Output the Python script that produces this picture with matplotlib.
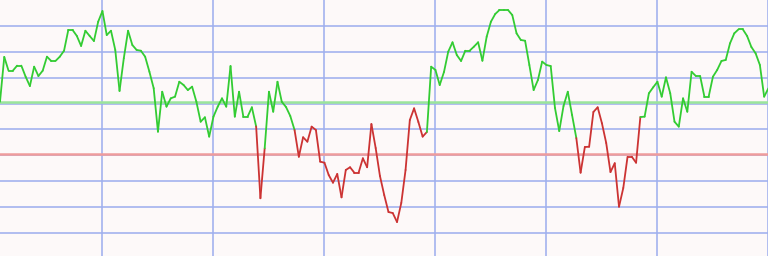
import numpy as np
import matplotlib
matplotlib.use("Agg")
import matplotlib.pyplot as plt
from matplotlib.collections import LineCollection

# Oscillator values (one per period)
values = [
    21.4, 55.9, 45.3, 45.3, 49.2, 49.2, 40.7, 33.5, 48.4, 41.2,
    45.3, 56.1, 52.8, 52.8, 56.1, 60.7, 76.7, 76.7, 72.1, 64.4,
    76.1, 72.1, 68.2, 83.1, 91.3, 72.8, 76.1, 61.3, 29.7, 54.9,
    76.1, 65.1, 61.3, 60.7, 56.1, 44.5, 31.8, -1.7, 29.1, 17.6,
    24.0, 25.3, 36.8, 34.3, 30.4, 33.0, 21.4, 6.0, 9.4, -5.5,
    9.9, 17.6, 24.0, 17.6, 48.9, 9.9, 29.1, 9.9, 9.9, 17.1,
    2.3, -53.0, -14.5, 29.1, 13.7, 36.8, 21.4, 17.3, 10.4, -0.4,
    -21.0, -6.0, -9.4, 2.2, -0.4, -24.8, -25.6, -35.1, -41.0, -34.3,
    -52.3, -31.2, -29.1, -33.3, -33.3, -22.2, -29.1, 4.2, -14.3, -35.8,
    -50.5, -63.6, -64.4, -71.3, -56.6, -31.2, 7.3, 16.3, 5.8, -5.5,
    -1.9, 48.4, 45.9, 34.3, 44.3, 60.0, 67.2, 57.4, 52.8, 60.7,
    60.7, 63.8, 67.2, 53.0, 71.5, 83.1, 89.0, 92.1, 92.1, 92.1,
    88.2, 74.1, 69.0, 68.4, 49.7, 30.4, 38.1, 52.3, 49.7, 48.9,
    16.6, -1.2, 18.1, 29.1, 11.2, -6.6, -33.3, -13.5, -13.3, 13.5,
    17.1, 4.8, -10.4, -32.8, -26.0, -59.5, -45.1, -21.0, -21.0, -25.6,
    9.6, 9.9, 27.9, 32.5, 36.8, 25.3, 40.2, 27.9, 6.0, 2.2,
    24.0, 13.7, 44.5, 41.2, 41.2, 25.3, 25.3, 40.7, 45.9, 52.8,
    53.6, 66.4, 74.1, 77.2, 77.2, 72.1, 63.6, 58.7, 49.7, 25.3,
    31.8,
]

# Segment ranges (start, end) drawn in red (bearish state)
red_spans = [(60, 62), (69, 100), (135, 150)]

upper_level = 21
lower_level = -19

x = np.arange(len(values))
y = np.array(values)

fig = plt.figure(figsize=(7.68, 2.56), dpi=100)
fig.patch.set_facecolor("#fdf9f9")
ax = fig.add_axes([0, 0, 1, 1])
ax.set_facecolor("#fdf9f9")
for s in ax.spines.values():
    s.set_visible(False)

ax.set_xlim(0, 179.9)
ax.set_ylim(-97.5, 99.8)

# grid
ax.set_xticks(np.arange(23.9, 180, 26))
ax.set_yticks(np.arange(-80, 81, 20))
ax.tick_params(left=False, bottom=False, labelleft=False, labelbottom=False)
ax.grid(True, color="#9fb0ee", linewidth=1.15, zorder=1)
ax.set_axisbelow(True)

ax.axhline(upper_level, color="#9be59b", linewidth=1.8, zorder=2)
ax.axhline(lower_level, color="#ef9c9c", linewidth=1.8, zorder=2)

pts = np.column_stack([x, y])
segs = np.stack([pts[:-1], pts[1:]], axis=1)
colors = ["#33cc33"] * len(segs)
for a, b in red_spans:
    for k in range(a, b):
        colors[k] = "#cc3333"
lc = LineCollection(segs, colors=colors, linewidths=1.3, zorder=3,
                    capstyle="round", joinstyle="round")
ax.add_collection(lc)

fig.savefig("out.png", dpi=100, facecolor=fig.get_facecolor())
